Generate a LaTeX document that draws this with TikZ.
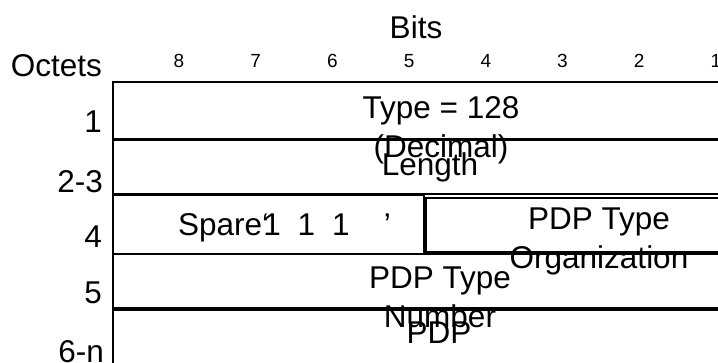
\documentclass[tikz,border=0pt]{standalone}
\usepackage{fontspec}
\setmainfont{Liberation Sans}
\usepackage{tikz}

\begin{document}
\begin{tikzpicture}[x=1pt, y=-1pt,
    field/.style={draw, line width=1.1pt},
    big/.style={font=\fontsize{31.5}{39}\selectfont, inner sep=0pt},
    small/.style={font=\fontsize{19}{22}\selectfont, inner sep=0pt}]
    \useasboundingbox (0,0) rectangle (718,362);
    \clip (0,0) rectangle (718,362);
    % Header
    \node[big, anchor=base] (bits) at (416,38) {Bits};
    \node[big, anchor=base east] (octets) at (102,76) {Octets};
    \foreach \b in {1,...,8}
        \node[small, anchor=base] (bit\b) at ({179+(8-\b)*76.7},67) {\b};
    % Octet rows
    \draw[field] (113,82) rectangle (724,139);
    \draw[field, line width=1.4pt] (113,139) -- (724,139);
    \draw[field] (113,140) rectangle (724,194);
    \draw[field] (113,195) rectangle (424,254);
    \draw[field] (426,198) rectangle (724,252);
    \draw[field] (113,254) rectangle (724,308);
    \draw[field] (113,310) rectangle (724,370);
    % Row labels
    \node[big, anchor=base east] (oct1) at (102,132) {1};
    \node[big, anchor=base east] (oct23) at (103,192) {2-3};
    \node[big, anchor=base east] (oct4) at (102,247) {4};
    \node[big, anchor=base east] (oct5) at (102,303) {5};
    \node[big, anchor=base east] (oct6n) at (104,362) {6-n};
    % Field contents (base = last line)
    \node[big, anchor=base, align=center] (type) at (441,157)
        {Type = 128\\(Decimal)};
    \node[big, anchor=base] (length) at (430,175) {Length};
    \node[big, anchor=base west] (spare) at (178,235)
        {Spare‘\kern-6pt1\hspace{17pt}1\hspace{17pt}1\hspace{34pt}’};
    \node[big, anchor=base, align=center] (org) at (599,268)
        {PDP Type\\Organization};
    \node[big, anchor=base, align=center] (number) at (440,327)
        {PDP Type\\Number};
    \node[big, anchor=base] (pdp) at (439,343) {PDP};
\end{tikzpicture}
\end{document}
